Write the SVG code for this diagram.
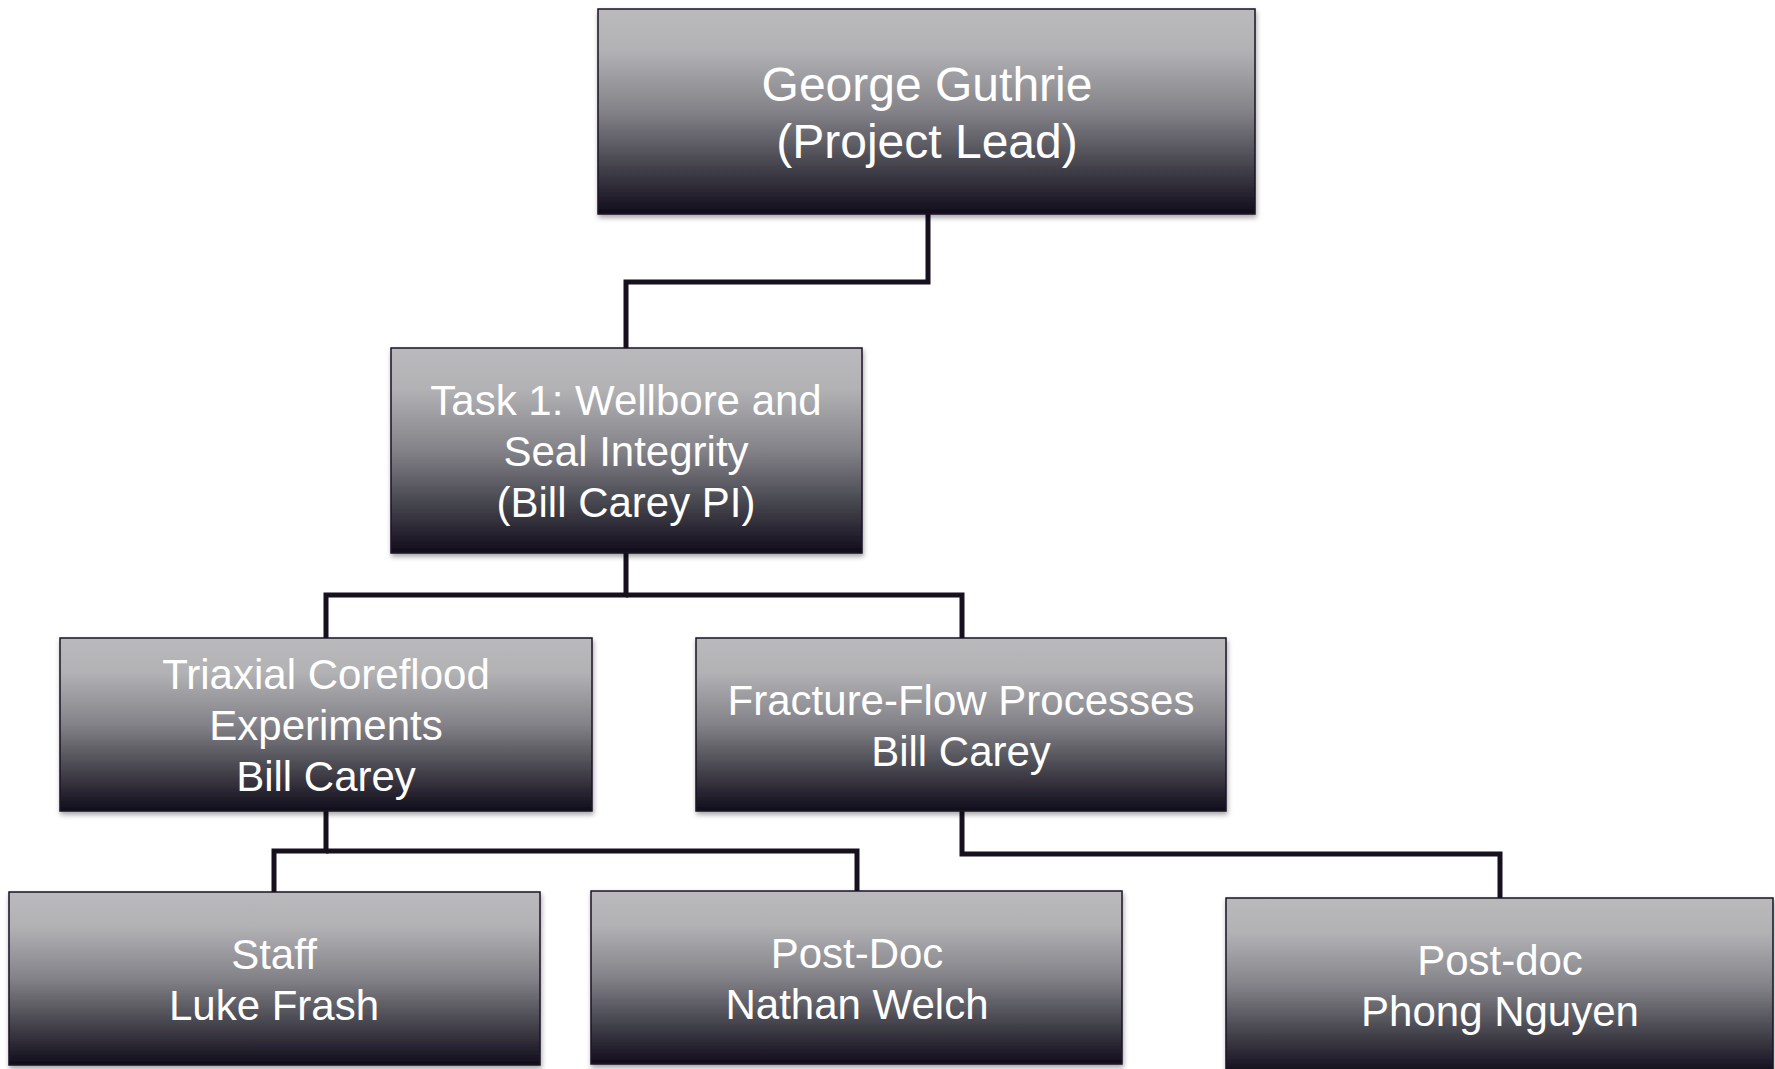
<svg xmlns="http://www.w3.org/2000/svg" width="1775" height="1069" viewBox="0 0 1775 1069">
<defs>
<linearGradient id="g" x1="0" y1="0" x2="0" y2="1">
<stop offset="0" stop-color="#bababd"/>
<stop offset="0.2" stop-color="#b2b2b5"/>
<stop offset="0.5" stop-color="#838288"/>
<stop offset="0.78" stop-color="#414049"/>
<stop offset="1" stop-color="#110c1b"/>
</linearGradient>
<filter id="sh" x="-5%" y="-5%" width="112%" height="120%">
<feDropShadow dx="1" dy="3" stdDeviation="2.5" flood-color="#000" flood-opacity="0.35"/>
</filter>
</defs>
<style>
.box{fill:url(#g);stroke:#1b1526;stroke-width:1.5;filter:url(#sh)}
.t{font-family:"Liberation Sans",Arial,sans-serif;fill:#ffffff;text-anchor:middle;font-size:42px}
.big{font-size:48px}
.c{fill:none;stroke:#16101f;stroke-width:5;stroke-linejoin:miter}
</style>
<g id="connectors">
<path class="c" d="M928 214 V282 H626 V348"/>
<path class="c" d="M626 553 V595 H326 V638"/>
<path class="c" d="M626 595 H962 V638"/>
<path class="c" d="M326 811 V851 H274 V892"/>
<path class="c" d="M326 851 H857 V891"/>
<path class="c" d="M962 811 V854 H1500 V898"/>
</g>
<g id="n-guthrie">
<rect class="box" x="598" y="9" width="657" height="205"/>
<text class="t big" x="927" y="101">George Guthrie</text>
<text class="t big" x="927" y="158">(Project Lead)</text>
</g>
<g id="n-task1">
<rect class="box" x="391" y="348" width="471" height="205"/>
<text class="t" x="626" y="415">Task 1: Wellbore and</text>
<text class="t" x="626" y="466">Seal Integrity</text>
<text class="t" x="626" y="517">(Bill Carey PI)</text>
</g>
<g id="n-triaxial">
<rect class="box" x="60" y="638" width="532" height="173"/>
<text class="t" x="326" y="689">Triaxial Coreflood</text>
<text class="t" x="326" y="740">Experiments</text>
<text class="t" x="326" y="791">Bill Carey</text>
</g>
<g id="n-fracture">
<rect class="box" x="696" y="638" width="530" height="173"/>
<text class="t" x="961" y="715">Fracture-Flow Processes</text>
<text class="t" x="961" y="766">Bill Carey</text>
</g>
<g id="n-frash">
<rect class="box" x="9" y="892" width="531" height="173"/>
<text class="t" x="274" y="969">Staff</text>
<text class="t" x="274" y="1020">Luke Frash</text>
</g>
<g id="n-welch">
<rect class="box" x="591" y="891" width="531" height="173"/>
<text class="t" x="857" y="968">Post-Doc</text>
<text class="t" x="857" y="1019">Nathan Welch</text>
</g>
<g id="n-nguyen">
<rect class="box" x="1226" y="898" width="547" height="176"/>
<text class="t" x="1500" y="975">Post-doc</text>
<text class="t" x="1500" y="1026">Phong Nguyen</text>
</g>
</svg>
